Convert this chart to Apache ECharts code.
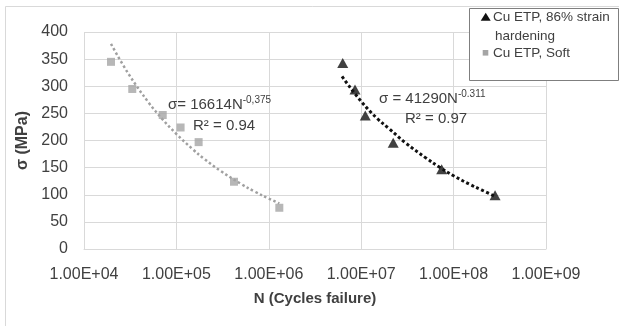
<!DOCTYPE html>
<html>
<head>
<meta charset="utf-8">
<script src="https://cdn.jsdelivr.net/npm/echarts@6/dist/echarts.min.js"></script>
<style>
html,body{margin:0;padding:0;background:#fff;}
#chart{width:619px;height:326px;}
</style>
</head>
<body>
<div id="chart"></div>
<script>
// Data
const hardN = [6.31e6, 8.57e6, 1.107e7, 2.22e7, 7.43e7, 2.81e8];
const hardS = [343, 294, 246, 196, 147, 99];
const softN = [19600, 33300, 71100, 111000, 174000, 420000, 1.30e6];
const softS = [345, 295, 247, 224, 197, 124, 76];
// trend lines
const softTrendN = [19600, 30000, 50000, 70000, 100000, 150000, 200000, 300000, 500000, 700000, 1000000, 1300000];
const softTrendS = [378, 324, 270, 240, 212, 184, 166, 144, 120, 106, 93, 84];
const hardTrendN = [6.2e6, 1e7, 1.5e7, 2e7, 3e7, 5e7, 7e7, 1e8, 1.5e8, 2e8, 2.81e8];
const hardTrendS = [318, 272, 240, 222, 196, 168, 151, 135, 119, 109, 97];
const xTickLabels = ['1.00E+04', '1.00E+05', '1.00E+06', '1.00E+07', '1.00E+08', '1.00E+09'];
const yTicks = [0, 50, 100, 150, 200, 250, 300, 350, 400];
const seriesNames = ['Cu ETP, 86% strain hardening', 'Cu ETP, Soft'];

const zip = (a, b) => a.map((v, i) => [v, b[i]]);
const font = 'Liberation Sans, Arial, sans-serif';
const txt = '#404040';

const chart = echarts.init(document.getElementById('chart'), null, {renderer: 'canvas'});
chart.setOption({
  animation: false,
  backgroundColor: '#fff',
  grid: {left: 84, right: 73, top: 32, bottom: 77, containLabel: false},
  xAxis: {
    type: 'log', logBase: 10, min: 1e4, max: 1e9,
    name: 'N (Cycles failure)', nameLocation: 'middle', nameGap: 42,
    nameTextStyle: {fontFamily: font, fontSize: 15, fontWeight: 'bold', color: txt},
    axisLine: {show: true, lineStyle: {color: '#d9d9d9', width: 1}},
    axisTick: {show: false},
    axisLabel: {
      fontFamily: font, fontSize: 16, color: txt, margin: 18,
      formatter: v => xTickLabels[Math.round(Math.log10(v)) - 4]
    },
    splitLine: {show: true, lineStyle: {color: '#d9d9d9', width: 1}}
  },
  yAxis: {
    type: 'value', min: yTicks[0], max: yTicks[yTicks.length - 1], interval: 50,
    name: 'σ (MPa)', nameLocation: 'middle', nameGap: 50, nameRotate: 90,
    nameTextStyle: {fontFamily: font, fontSize: 16, fontWeight: 'bold', color: txt},
    axisLine: {show: false}, axisTick: {show: false},
    axisLabel: {fontFamily: font, fontSize: 16, color: txt, margin: 16},
    splitLine: {show: true, lineStyle: {color: '#d9d9d9', width: 1}}
  },
  series: [
    {
      name: 'softTrend', type: 'line', data: zip(softTrendN, softTrendS),
      showSymbol: false, smooth: 0.4, silent: true, z: 2,
      lineStyle: {color: '#a0a0a0', width: 2.5, type: [2.5, 2.5]}
    },
    {
      name: 'hardTrend', type: 'line', data: zip(hardTrendN, hardTrendS),
      showSymbol: false, smooth: 0.4, silent: true, z: 2,
      lineStyle: {color: '#111', width: 3, type: [3, 2.5]}
    },
    {
      name: seriesNames[0], type: 'scatter', data: zip(hardN, hardS),
      symbol: 'triangle', symbolSize: [11, 10], z: 3,
      itemStyle: {color: '#111'}
    },
    {
      name: seriesNames[1], type: 'scatter', data: zip(softN, softS),
      symbol: 'rect', symbolSize: 8, z: 3,
      itemStyle: {color: '#a5a5a5'}
    }
  ],
  graphic: [
    {type: 'rect', z: 0, silent: true, shape: {x: 5.5, y: 6.5, width: 640, height: 340},
     style: {fill: 'none', stroke: '#d9d9d9', lineWidth: 1}},
    {type: 'rect', z: 100, zlevel: 1, shape: {x: 469.5, y: 8.5, width: 149, height: 72},
     style: {fill: '#fff', stroke: '#7f7f7f', lineWidth: 1}},
    {type: 'polygon', z: 101, zlevel: 1, shape: {points: [[485.7, 12.7], [490.7, 20.7], [480.7, 20.7]]}, style: {fill: '#111'}},
    {type: 'text', z: 101, zlevel: 1, x: 493, y: 17, style: {text: 'Cu ETP, 86% strain', font: '13.5px ' + font, fill: txt, verticalAlign: 'middle'}},
    {type: 'text', z: 101, zlevel: 1, x: 495, y: 36, style: {text: 'hardening', font: '13.5px ' + font, fill: txt, verticalAlign: 'middle'}},
    {type: 'rect', z: 101, zlevel: 1, shape: {x: 482.7, y: 50, width: 5.6, height: 5.6}, style: {fill: '#a5a5a5'}},
    {type: 'text', z: 101, zlevel: 1, x: 493, y: 53, style: {text: 'Cu ETP, Soft', font: '13.5px ' + font, fill: txt, verticalAlign: 'middle'}},
    {type: 'text', z: 50, x: 168, y: 105, style: {
      text: '{m|σ= 16614N}{s|-0,375}', verticalAlign: 'middle', fill: txt,
      rich: {m: {font: '15px ' + font, fill: txt}, s: {font: '10px ' + font, fill: txt, padding: [0, 0, 9, 0]}}
    }},
    {type: 'text', z: 50, x: 193, y: 126, style: {
      text: 'R² = 0.94', font: '15px ' + font, fill: txt, verticalAlign: 'middle'
    }},
    {type: 'text', z: 50, x: 379, y: 99, style: {
      text: '{m|σ = 41290N}{s|-0.311}', verticalAlign: 'middle', fill: txt,
      rich: {m: {font: '15px ' + font, fill: txt}, s: {font: '10px ' + font, fill: txt, padding: [0, 0, 9, 0]}}
    }},
    {type: 'text', z: 50, x: 405, y: 119, style: {
      text: 'R² = 0.97', font: '15px ' + font, fill: txt, verticalAlign: 'middle'
    }}
  ]
});
</script>
</body>
</html>
